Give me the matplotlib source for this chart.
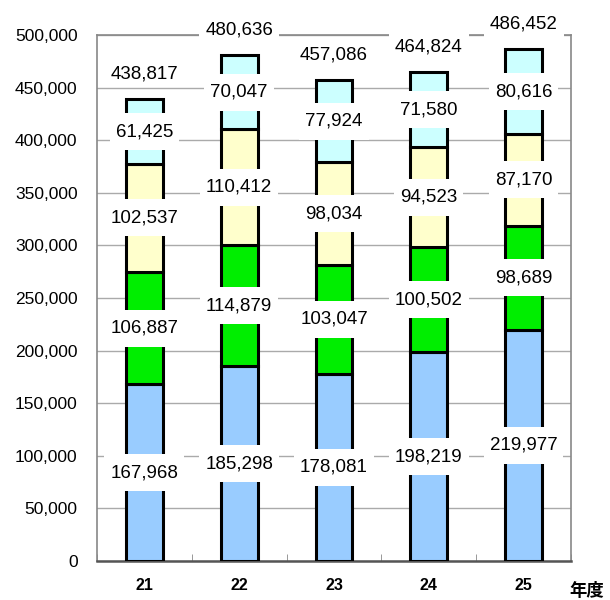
import matplotlib
matplotlib.use("Agg")
import matplotlib.pyplot as plt
from matplotlib.path import Path
import numpy as np

years = ["21", "22", "23", "24", "25"]
seg1 = [167968, 185298, 178081, 198219, 219977]
seg2 = [106887, 114879, 103047, 100502, 98689]
seg3 = [102537, 110412, 98034, 94523, 87170]
seg4 = [61425, 70047, 77924, 71580, 80616]
totals = [438817, 480636, 457086, 464824, 486452]
colors = ["#99CCFF", "#00EE00", "#FFFFCC", "#CCFFFF"]
yticks = [0, 50000, 100000, 150000, 200000, 250000, 300000, 350000, 400000, 450000, 500000]

plt.rcParams['font.family'] = ['Liberation Sans', 'Noto Sans CJK JP', 'DejaVu Sans']


def make_box(px, py):
    def box(x0, y0, width, height, mutation_size):
        x0 -= px
        y0 -= py
        x1 = x0 + width + 2 * px
        y1 = y0 + height + 2 * py
        return Path([(x0, y0), (x1, y0), (x1, y1), (x0, y1), (x0, y0)], closed=True)
    return box


fig = plt.figure(figsize=(6.1, 6.0), dpi=100)
ax = fig.add_axes([97/610, 1-561/600, 474/610, 526/600])

x = np.arange(len(years))
bottom = np.zeros(len(years))
segs = [seg1, seg2, seg3, seg4]
for s, c in zip(segs, colors):
    ax.bar(x, s, bottom=bottom, width=0.39, color=c, edgecolor="black", linewidth=2.2, zorder=3)
    for xi, b, v in zip(x, bottom, s):
        ax.text(xi, b + v/2, f"{v:,}", ha="center", va="center", fontsize=13.5,
                bbox=dict(facecolor="white", edgecolor="none", boxstyle=make_box(6, 10)), zorder=5)
    bottom += np.array(s)

for xi, t, b in zip(x, totals, bottom):
    ax.text(xi, b + 24000, f"{t:,}", ha="center", va="center", fontsize=13.5,
            bbox=dict(facecolor="white", edgecolor="none", boxstyle=make_box(6, 4)), zorder=5)

ax.set_xlim(-0.5, 4.5)
ax.set_ylim(0, 500000)
ax.set_yticks(yticks)
ax.set_yticklabels([f"{v:,}" for v in yticks], fontsize=12.5)
ax.set_xticks(x)
ax.set_xticklabels(years, fontsize=11.5, fontweight="bold")
ax.tick_params(axis="x", length=0, pad=12)
ax.tick_params(axis="y", length=0, pad=14)
ax.set_xticks(np.arange(-0.5, 5, 1), minor=True)
ax.tick_params(axis="x", which="minor", length=5, direction="in", color="#888888")
ax.grid(axis="y", color="#aaaaaa", linewidth=1, zorder=0)
for sp in ax.spines.values():
    sp.set_color("#888888")
    sp.set_linewidth(1.2)
ax.spines["bottom"].set_color("#555555")
ax.spines["bottom"].set_linewidth(1.8)

fig.text(587/610, 1-591/600, "年度", ha="center", va="center", fontsize=12.5, fontweight="bold")

fig.savefig("out.png", dpi=100)
